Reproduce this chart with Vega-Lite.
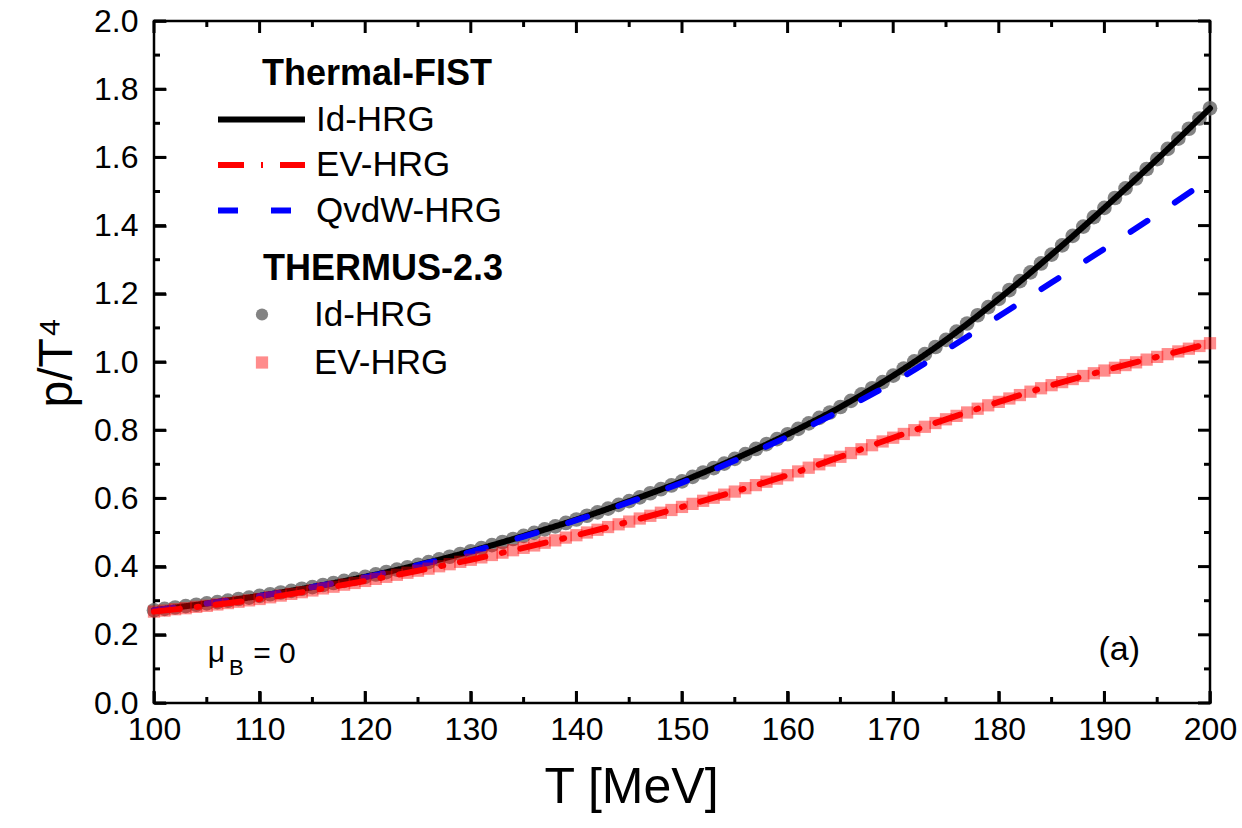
{
  "$schema": "https://vega.github.io/schema/vega-lite/v6.json",
  "width": 1056,
  "height": 682,
  "autosize": {"type": "none"},
  "padding": {"left": 154, "top": 21, "right": 32, "bottom": 125},
  "background": "white",
  "config": {
    "view": {"stroke": "black", "strokeWidth": 2.5},
    "font": "Liberation Sans",
    "axis": {"grid": false, "domain": false, "labelColor": "black", "titleColor": "black", "labelFont": "Liberation Sans", "titleFont": "Liberation Sans", "titleFontWeight": "normal", "labelFlush": false, "labelOverlap": false}
  },
  "datasets": {
    "xmajor": [{"v": 100}, {"v": 110}, {"v": 120}, {"v": 130}, {"v": 140}, {"v": 150}, {"v": 160}, {"v": 170}, {"v": 180}, {"v": 190}, {"v": 200}],
    "xminor": [{"v": 105}, {"v": 115}, {"v": 125}, {"v": 135}, {"v": 145}, {"v": 155}, {"v": 165}, {"v": 175}, {"v": 185}, {"v": 195}],
    "ymajor": [{"v": 0}, {"v": 0.2}, {"v": 0.4}, {"v": 0.6}, {"v": 0.8}, {"v": 1.0}, {"v": 1.2}, {"v": 1.4}, {"v": 1.6}, {"v": 1.8}, {"v": 2.0}],
    "yminor": [{"v": 0.1}, {"v": 0.3}, {"v": 0.5}, {"v": 0.7}, {"v": 0.9}, {"v": 1.1}, {"v": 1.3}, {"v": 1.5}, {"v": 1.7}, {"v": 1.9}],
    "fist": [
      {"m": "Id-HRG", "T": 100, "p": 0.272}, {"m": "Id-HRG", "T": 105, "p": 0.292}, {"m": "Id-HRG", "T": 110, "p": 0.314}, {"m": "Id-HRG", "T": 115, "p": 0.340}, {"m": "Id-HRG", "T": 120, "p": 0.370}, {"m": "Id-HRG", "T": 125, "p": 0.405}, {"m": "Id-HRG", "T": 130, "p": 0.445}, {"m": "Id-HRG", "T": 135, "p": 0.490}, {"m": "Id-HRG", "T": 140, "p": 0.538}, {"m": "Id-HRG", "T": 145, "p": 0.592}, {"m": "Id-HRG", "T": 150, "p": 0.650}, {"m": "Id-HRG", "T": 155, "p": 0.716}, {"m": "Id-HRG", "T": 160, "p": 0.788}, {"m": "Id-HRG", "T": 165, "p": 0.868}, {"m": "Id-HRG", "T": 170, "p": 0.960}, {"m": "Id-HRG", "T": 175, "p": 1.065}, {"m": "Id-HRG", "T": 180, "p": 1.185}, {"m": "Id-HRG", "T": 185, "p": 1.315}, {"m": "Id-HRG", "T": 190, "p": 1.452}, {"m": "Id-HRG", "T": 195, "p": 1.595}, {"m": "Id-HRG", "T": 200, "p": 1.744},
      {"m": "EV-HRG", "T": 100, "p": 0.268}, {"m": "EV-HRG", "T": 105, "p": 0.285}, {"m": "EV-HRG", "T": 110, "p": 0.305}, {"m": "EV-HRG", "T": 115, "p": 0.330}, {"m": "EV-HRG", "T": 120, "p": 0.358}, {"m": "EV-HRG", "T": 125, "p": 0.388}, {"m": "EV-HRG", "T": 130, "p": 0.420}, {"m": "EV-HRG", "T": 135, "p": 0.455}, {"m": "EV-HRG", "T": 140, "p": 0.492}, {"m": "EV-HRG", "T": 145, "p": 0.532}, {"m": "EV-HRG", "T": 150, "p": 0.575}, {"m": "EV-HRG", "T": 155, "p": 0.620}, {"m": "EV-HRG", "T": 160, "p": 0.668}, {"m": "EV-HRG", "T": 165, "p": 0.722}, {"m": "EV-HRG", "T": 170, "p": 0.778}, {"m": "EV-HRG", "T": 175, "p": 0.832}, {"m": "EV-HRG", "T": 180, "p": 0.883}, {"m": "EV-HRG", "T": 185, "p": 0.932}, {"m": "EV-HRG", "T": 190, "p": 0.975}, {"m": "EV-HRG", "T": 195, "p": 1.015}, {"m": "EV-HRG", "T": 200, "p": 1.055},
      {"m": "QvdW-HRG", "T": 100, "p": 0.272}, {"m": "QvdW-HRG", "T": 105, "p": 0.292}, {"m": "QvdW-HRG", "T": 110, "p": 0.314}, {"m": "QvdW-HRG", "T": 115, "p": 0.340}, {"m": "QvdW-HRG", "T": 120, "p": 0.369}, {"m": "QvdW-HRG", "T": 125, "p": 0.404}, {"m": "QvdW-HRG", "T": 130, "p": 0.443}, {"m": "QvdW-HRG", "T": 135, "p": 0.488}, {"m": "QvdW-HRG", "T": 140, "p": 0.536}, {"m": "QvdW-HRG", "T": 145, "p": 0.589}, {"m": "QvdW-HRG", "T": 150, "p": 0.646}, {"m": "QvdW-HRG", "T": 155, "p": 0.711}, {"m": "QvdW-HRG", "T": 160, "p": 0.781}, {"m": "QvdW-HRG", "T": 165, "p": 0.857}, {"m": "QvdW-HRG", "T": 170, "p": 0.940}, {"m": "QvdW-HRG", "T": 175, "p": 1.035}, {"m": "QvdW-HRG", "T": 180, "p": 1.134}, {"m": "QvdW-HRG", "T": 185, "p": 1.233}, {"m": "QvdW-HRG", "T": 190, "p": 1.332}, {"m": "QvdW-HRG", "T": 195, "p": 1.433}, {"m": "QvdW-HRG", "T": 200, "p": 1.538}
    ],
    "thermus": [
      {"tm": "Id-HRG", "T": 100, "p": 0.272}, {"tm": "Id-HRG", "T": 101, "p": 0.276}, {"tm": "Id-HRG", "T": 102, "p": 0.280}, {"tm": "Id-HRG", "T": 103, "p": 0.284}, {"tm": "Id-HRG", "T": 104, "p": 0.288}, {"tm": "Id-HRG", "T": 105, "p": 0.292},
      {"tm": "Id-HRG", "T": 106, "p": 0.296}, {"tm": "Id-HRG", "T": 107, "p": 0.300}, {"tm": "Id-HRG", "T": 108, "p": 0.305}, {"tm": "Id-HRG", "T": 109, "p": 0.309}, {"tm": "Id-HRG", "T": 110, "p": 0.314},
      {"tm": "Id-HRG", "T": 111, "p": 0.319}, {"tm": "Id-HRG", "T": 112, "p": 0.324}, {"tm": "Id-HRG", "T": 113, "p": 0.329}, {"tm": "Id-HRG", "T": 114, "p": 0.335}, {"tm": "Id-HRG", "T": 115, "p": 0.340},
      {"tm": "Id-HRG", "T": 116, "p": 0.346}, {"tm": "Id-HRG", "T": 117, "p": 0.352}, {"tm": "Id-HRG", "T": 118, "p": 0.358}, {"tm": "Id-HRG", "T": 119, "p": 0.364}, {"tm": "Id-HRG", "T": 120, "p": 0.370},
      {"tm": "Id-HRG", "T": 121, "p": 0.377}, {"tm": "Id-HRG", "T": 122, "p": 0.384}, {"tm": "Id-HRG", "T": 123, "p": 0.391}, {"tm": "Id-HRG", "T": 124, "p": 0.398}, {"tm": "Id-HRG", "T": 125, "p": 0.405},
      {"tm": "Id-HRG", "T": 126, "p": 0.413}, {"tm": "Id-HRG", "T": 127, "p": 0.421}, {"tm": "Id-HRG", "T": 128, "p": 0.429}, {"tm": "Id-HRG", "T": 129, "p": 0.437}, {"tm": "Id-HRG", "T": 130, "p": 0.445},
      {"tm": "Id-HRG", "T": 131, "p": 0.454}, {"tm": "Id-HRG", "T": 132, "p": 0.463}, {"tm": "Id-HRG", "T": 133, "p": 0.472}, {"tm": "Id-HRG", "T": 134, "p": 0.481}, {"tm": "Id-HRG", "T": 135, "p": 0.490},
      {"tm": "Id-HRG", "T": 136, "p": 0.499}, {"tm": "Id-HRG", "T": 137, "p": 0.509}, {"tm": "Id-HRG", "T": 138, "p": 0.518}, {"tm": "Id-HRG", "T": 139, "p": 0.528}, {"tm": "Id-HRG", "T": 140, "p": 0.538},
      {"tm": "Id-HRG", "T": 141, "p": 0.549}, {"tm": "Id-HRG", "T": 142, "p": 0.559}, {"tm": "Id-HRG", "T": 143, "p": 0.570}, {"tm": "Id-HRG", "T": 144, "p": 0.581}, {"tm": "Id-HRG", "T": 145, "p": 0.592},
      {"tm": "Id-HRG", "T": 146, "p": 0.603}, {"tm": "Id-HRG", "T": 147, "p": 0.615}, {"tm": "Id-HRG", "T": 148, "p": 0.627}, {"tm": "Id-HRG", "T": 149, "p": 0.638}, {"tm": "Id-HRG", "T": 150, "p": 0.650},
      {"tm": "Id-HRG", "T": 151, "p": 0.663}, {"tm": "Id-HRG", "T": 152, "p": 0.676}, {"tm": "Id-HRG", "T": 153, "p": 0.689}, {"tm": "Id-HRG", "T": 154, "p": 0.702}, {"tm": "Id-HRG", "T": 155, "p": 0.716},
      {"tm": "Id-HRG", "T": 156, "p": 0.730}, {"tm": "Id-HRG", "T": 157, "p": 0.745}, {"tm": "Id-HRG", "T": 158, "p": 0.759}, {"tm": "Id-HRG", "T": 159, "p": 0.774}, {"tm": "Id-HRG", "T": 160, "p": 0.788},
      {"tm": "Id-HRG", "T": 161, "p": 0.804}, {"tm": "Id-HRG", "T": 162, "p": 0.820}, {"tm": "Id-HRG", "T": 163, "p": 0.836}, {"tm": "Id-HRG", "T": 164, "p": 0.852}, {"tm": "Id-HRG", "T": 165, "p": 0.868},
      {"tm": "Id-HRG", "T": 166, "p": 0.886}, {"tm": "Id-HRG", "T": 167, "p": 0.905}, {"tm": "Id-HRG", "T": 168, "p": 0.923}, {"tm": "Id-HRG", "T": 169, "p": 0.941}, {"tm": "Id-HRG", "T": 170, "p": 0.960},
      {"tm": "Id-HRG", "T": 171, "p": 0.981}, {"tm": "Id-HRG", "T": 172, "p": 1.002}, {"tm": "Id-HRG", "T": 173, "p": 1.023}, {"tm": "Id-HRG", "T": 174, "p": 1.044}, {"tm": "Id-HRG", "T": 175, "p": 1.065},
      {"tm": "Id-HRG", "T": 176, "p": 1.089}, {"tm": "Id-HRG", "T": 177, "p": 1.113}, {"tm": "Id-HRG", "T": 178, "p": 1.137}, {"tm": "Id-HRG", "T": 179, "p": 1.161}, {"tm": "Id-HRG", "T": 180, "p": 1.185},
      {"tm": "Id-HRG", "T": 181, "p": 1.211}, {"tm": "Id-HRG", "T": 182, "p": 1.237}, {"tm": "Id-HRG", "T": 183, "p": 1.263}, {"tm": "Id-HRG", "T": 184, "p": 1.289}, {"tm": "Id-HRG", "T": 185, "p": 1.315},
      {"tm": "Id-HRG", "T": 186, "p": 1.342}, {"tm": "Id-HRG", "T": 187, "p": 1.370}, {"tm": "Id-HRG", "T": 188, "p": 1.397}, {"tm": "Id-HRG", "T": 189, "p": 1.425}, {"tm": "Id-HRG", "T": 190, "p": 1.452},
      {"tm": "Id-HRG", "T": 191, "p": 1.481}, {"tm": "Id-HRG", "T": 192, "p": 1.509}, {"tm": "Id-HRG", "T": 193, "p": 1.538}, {"tm": "Id-HRG", "T": 194, "p": 1.566}, {"tm": "Id-HRG", "T": 195, "p": 1.595},
      {"tm": "Id-HRG", "T": 196, "p": 1.625}, {"tm": "Id-HRG", "T": 197, "p": 1.655}, {"tm": "Id-HRG", "T": 198, "p": 1.684}, {"tm": "Id-HRG", "T": 199, "p": 1.714}, {"tm": "Id-HRG", "T": 200, "p": 1.744},
      {"tm": "EV-HRG", "T": 100, "p": 0.268}, {"tm": "EV-HRG", "T": 101, "p": 0.271}, {"tm": "EV-HRG", "T": 102, "p": 0.275}, {"tm": "EV-HRG", "T": 103, "p": 0.278}, {"tm": "EV-HRG", "T": 104, "p": 0.282}, {"tm": "EV-HRG", "T": 105, "p": 0.285},
      {"tm": "EV-HRG", "T": 106, "p": 0.289}, {"tm": "EV-HRG", "T": 107, "p": 0.293}, {"tm": "EV-HRG", "T": 108, "p": 0.297}, {"tm": "EV-HRG", "T": 109, "p": 0.301}, {"tm": "EV-HRG", "T": 110, "p": 0.305},
      {"tm": "EV-HRG", "T": 111, "p": 0.310}, {"tm": "EV-HRG", "T": 112, "p": 0.315}, {"tm": "EV-HRG", "T": 113, "p": 0.320}, {"tm": "EV-HRG", "T": 114, "p": 0.325}, {"tm": "EV-HRG", "T": 115, "p": 0.330},
      {"tm": "EV-HRG", "T": 116, "p": 0.336}, {"tm": "EV-HRG", "T": 117, "p": 0.341}, {"tm": "EV-HRG", "T": 118, "p": 0.347}, {"tm": "EV-HRG", "T": 119, "p": 0.352}, {"tm": "EV-HRG", "T": 120, "p": 0.358},
      {"tm": "EV-HRG", "T": 121, "p": 0.364}, {"tm": "EV-HRG", "T": 122, "p": 0.370}, {"tm": "EV-HRG", "T": 123, "p": 0.376}, {"tm": "EV-HRG", "T": 124, "p": 0.382}, {"tm": "EV-HRG", "T": 125, "p": 0.388},
      {"tm": "EV-HRG", "T": 126, "p": 0.394}, {"tm": "EV-HRG", "T": 127, "p": 0.401}, {"tm": "EV-HRG", "T": 128, "p": 0.407}, {"tm": "EV-HRG", "T": 129, "p": 0.414}, {"tm": "EV-HRG", "T": 130, "p": 0.420},
      {"tm": "EV-HRG", "T": 131, "p": 0.427}, {"tm": "EV-HRG", "T": 132, "p": 0.434}, {"tm": "EV-HRG", "T": 133, "p": 0.441}, {"tm": "EV-HRG", "T": 134, "p": 0.448}, {"tm": "EV-HRG", "T": 135, "p": 0.455},
      {"tm": "EV-HRG", "T": 136, "p": 0.462}, {"tm": "EV-HRG", "T": 137, "p": 0.470}, {"tm": "EV-HRG", "T": 138, "p": 0.477}, {"tm": "EV-HRG", "T": 139, "p": 0.485}, {"tm": "EV-HRG", "T": 140, "p": 0.492},
      {"tm": "EV-HRG", "T": 141, "p": 0.500}, {"tm": "EV-HRG", "T": 142, "p": 0.508}, {"tm": "EV-HRG", "T": 143, "p": 0.516}, {"tm": "EV-HRG", "T": 144, "p": 0.524}, {"tm": "EV-HRG", "T": 145, "p": 0.532},
      {"tm": "EV-HRG", "T": 146, "p": 0.541}, {"tm": "EV-HRG", "T": 147, "p": 0.549}, {"tm": "EV-HRG", "T": 148, "p": 0.558}, {"tm": "EV-HRG", "T": 149, "p": 0.566}, {"tm": "EV-HRG", "T": 150, "p": 0.575},
      {"tm": "EV-HRG", "T": 151, "p": 0.584}, {"tm": "EV-HRG", "T": 152, "p": 0.593}, {"tm": "EV-HRG", "T": 153, "p": 0.602}, {"tm": "EV-HRG", "T": 154, "p": 0.611}, {"tm": "EV-HRG", "T": 155, "p": 0.620},
      {"tm": "EV-HRG", "T": 156, "p": 0.630}, {"tm": "EV-HRG", "T": 157, "p": 0.639}, {"tm": "EV-HRG", "T": 158, "p": 0.649}, {"tm": "EV-HRG", "T": 159, "p": 0.658}, {"tm": "EV-HRG", "T": 160, "p": 0.668},
      {"tm": "EV-HRG", "T": 161, "p": 0.679}, {"tm": "EV-HRG", "T": 162, "p": 0.690}, {"tm": "EV-HRG", "T": 163, "p": 0.700}, {"tm": "EV-HRG", "T": 164, "p": 0.711}, {"tm": "EV-HRG", "T": 165, "p": 0.722},
      {"tm": "EV-HRG", "T": 166, "p": 0.733}, {"tm": "EV-HRG", "T": 167, "p": 0.744}, {"tm": "EV-HRG", "T": 168, "p": 0.756}, {"tm": "EV-HRG", "T": 169, "p": 0.767}, {"tm": "EV-HRG", "T": 170, "p": 0.778},
      {"tm": "EV-HRG", "T": 171, "p": 0.789}, {"tm": "EV-HRG", "T": 172, "p": 0.800}, {"tm": "EV-HRG", "T": 173, "p": 0.810}, {"tm": "EV-HRG", "T": 174, "p": 0.821}, {"tm": "EV-HRG", "T": 175, "p": 0.832},
      {"tm": "EV-HRG", "T": 176, "p": 0.842}, {"tm": "EV-HRG", "T": 177, "p": 0.852}, {"tm": "EV-HRG", "T": 178, "p": 0.863}, {"tm": "EV-HRG", "T": 179, "p": 0.873}, {"tm": "EV-HRG", "T": 180, "p": 0.883},
      {"tm": "EV-HRG", "T": 181, "p": 0.893}, {"tm": "EV-HRG", "T": 182, "p": 0.903}, {"tm": "EV-HRG", "T": 183, "p": 0.913}, {"tm": "EV-HRG", "T": 184, "p": 0.923}, {"tm": "EV-HRG", "T": 185, "p": 0.932},
      {"tm": "EV-HRG", "T": 186, "p": 0.941}, {"tm": "EV-HRG", "T": 187, "p": 0.950}, {"tm": "EV-HRG", "T": 188, "p": 0.959}, {"tm": "EV-HRG", "T": 189, "p": 0.967}, {"tm": "EV-HRG", "T": 190, "p": 0.975},
      {"tm": "EV-HRG", "T": 191, "p": 0.983}, {"tm": "EV-HRG", "T": 192, "p": 0.991}, {"tm": "EV-HRG", "T": 193, "p": 0.999}, {"tm": "EV-HRG", "T": 194, "p": 1.007}, {"tm": "EV-HRG", "T": 195, "p": 1.015},
      {"tm": "EV-HRG", "T": 196, "p": 1.023}, {"tm": "EV-HRG", "T": 197, "p": 1.031}, {"tm": "EV-HRG", "T": 198, "p": 1.039}, {"tm": "EV-HRG", "T": 199, "p": 1.047}, {"tm": "EV-HRG", "T": 200, "p": 1.055}
    ]
  },
  "layer": [
    {
      "data": {"name": "thermus"},
      "transform": [{"filter": "datum.tm === 'Id-HRG'"}],
      "mark": {"type": "point", "filled": true, "strokeWidth": 0, "size": 215, "opacity": 1},
      "encoding": {
        "x": {"field": "T", "type": "quantitative", "scale": {"domain": [100, 200], "nice": false, "zero": false},
          "axis": {"orient": "bottom", "offset": -12, "values": [100, 110, 120, 130, 140, 150, 160, 170, 180, 190, 200], "format": "d", "ticks": true, "tickSize": 12, "tickColor": "#000000", "tickWidth": 2.5, "labelFontSize": 32, "labelPadding": 11, "title": "T [MeV]", "titleFontSize": 50, "titleX": 477, "titleY": 111, "titleBaseline": "alphabetic", "titleAlign": "center", "titleAnchor": "middle"}},
        "y": {"field": "p", "type": "quantitative", "scale": {"domain": [0, 2], "nice": false, "zero": false},
          "axis": {"orient": "left", "offset": -12, "values": [0, 0.2, 0.4, 0.6, 0.8, 1.0, 1.2, 1.4, 1.6, 1.8, 2.0], "format": ".1f", "ticks": true, "tickSize": 12, "tickColor": "#000000", "tickWidth": 2.5, "labelFontSize": 32, "labelPadding": 16, "title": "p/T⁴", "titleFontSize": 48, "titleAngle": -90, "titleX": -95, "titleY": 341, "titleBaseline": "alphabetic", "titleAlign": "center", "titleAnchor": "middle"}},
        "fill": {"field": "tm", "type": "nominal", "scale": {"domain": ["Id-HRG", "EV-HRG"], "range": ["rgba(100,100,100,0.8)", "rgba(255,0,0,0.45)"]},
          "legend": {"title": "THERMUS-2.3", "orient": "none", "legendX": 109, "legendY": 231, "direction": "vertical", "padding": 0, "titleFont": "Liberation Sans", "titleFontSize": 36, "titleFontWeight": "bold", "titleColor": "black", "titlePadding": 9, "titleLimit": 500, "labelFont": "Liberation Sans", "labelFontSize": 35, "labelColor": "black", "labelLimit": 400, "symbolSize": 150, "symbolStrokeWidth": 0, "symbolOffset": -18.5, "labelOffset": 34.5, "rowPadding": 12}},
        "shape": {"field": "tm", "type": "nominal", "scale": {"domain": ["Id-HRG", "EV-HRG"], "range": ["circle", "square"]},
          "legend": {"title": "THERMUS-2.3", "orient": "none", "legendX": 109, "legendY": 231, "direction": "vertical", "padding": 0, "titleFont": "Liberation Sans", "titleFontSize": 36, "titleFontWeight": "bold", "titleColor": "black", "titlePadding": 9, "titleLimit": 500, "labelFont": "Liberation Sans", "labelFontSize": 35, "labelColor": "black", "labelLimit": 400, "symbolSize": 150, "symbolStrokeWidth": 0, "symbolOffset": -18.5, "labelOffset": 34.5, "rowPadding": 12}}
      }
    },
    {
      "data": {"name": "fist"},
      "transform": [{"filter": "datum.m === 'Id-HRG'"}],
      "mark": {"type": "line", "strokeWidth": 6, "strokeCap": "round", "interpolate": "monotone"},
      "encoding": {
        "x": {"field": "T", "type": "quantitative", "scale": {"domain": [100, 200], "nice": false, "zero": false}, "axis": null},
        "y": {"field": "p", "type": "quantitative", "scale": {"domain": [0, 2], "nice": false, "zero": false}, "axis": null},
        "stroke": {"field": "m", "type": "nominal", "scale": {"domain": ["Id-HRG", "EV-HRG", "QvdW-HRG"], "range": ["#000000", "#ff0000", "#0000ff"]},
          "legend": {"title": "Thermal-FIST", "orient": "none", "legendX": 108, "legendY": 36, "direction": "vertical", "padding": 0, "titleFont": "Liberation Sans", "titleFontSize": 36, "titleFontWeight": "bold", "titleColor": "black", "titlePadding": 8.5, "titleLimit": 500, "labelFont": "Liberation Sans", "labelFontSize": 35, "labelColor": "black", "labelLimit": 400, "symbolType": "M-2.9,0H2.9", "symbolSize": 900, "symbolStrokeWidth": 6, "symbolOffset": -18.5, "labelOffset": 36.5, "rowPadding": 9.5}},
        "strokeDash": {"field": "m", "type": "nominal", "scale": {"domain": ["Id-HRG", "EV-HRG", "QvdW-HRG"], "range": [[1, 0], [26, 17, 2, 17], [20, 33]]},
          "legend": {"title": "Thermal-FIST", "orient": "none", "legendX": 108, "legendY": 36, "direction": "vertical", "padding": 0, "titleFont": "Liberation Sans", "titleFontSize": 36, "titleFontWeight": "bold", "titleColor": "black", "titlePadding": 8.5, "titleLimit": 500, "labelFont": "Liberation Sans", "labelFontSize": 35, "labelColor": "black", "labelLimit": 400, "symbolType": "M-2.9,0H2.9", "symbolSize": 900, "symbolStrokeWidth": 6, "symbolOffset": -18.5, "labelOffset": 36.5, "rowPadding": 9.5}}
      }
    },
    {
      "data": {"name": "fist"},
      "transform": [{"filter": "datum.m === 'QvdW-HRG'"}],
      "mark": {"type": "line", "strokeWidth": 6, "strokeCap": "round", "interpolate": "monotone"},
      "encoding": {
        "x": {"field": "T", "type": "quantitative", "axis": null},
        "y": {"field": "p", "type": "quantitative", "axis": null},
        "stroke": {"field": "m", "type": "nominal"},
        "strokeDash": {"field": "m", "type": "nominal"}
      }
    },
    {
      "data": {"name": "thermus"},
      "transform": [{"filter": "datum.tm === 'EV-HRG'"}],
      "mark": {"type": "point", "filled": true, "strokeWidth": 0, "size": 150, "opacity": 1},
      "encoding": {
        "x": {"field": "T", "type": "quantitative", "axis": null},
        "y": {"field": "p", "type": "quantitative", "axis": null},
        "fill": {"field": "tm", "type": "nominal"},
        "shape": {"field": "tm", "type": "nominal"}
      }
    },
    {
      "data": {"name": "fist"},
      "transform": [{"filter": "datum.m === 'EV-HRG'"}],
      "mark": {"type": "line", "strokeWidth": 6, "strokeCap": "round", "interpolate": "monotone"},
      "encoding": {
        "x": {"field": "T", "type": "quantitative", "axis": null},
        "y": {"field": "p", "type": "quantitative", "axis": null},
        "stroke": {"field": "m", "type": "nominal"},
        "strokeDash": {"field": "m", "type": "nominal"}
      }
    },
    {
      "data": {"name": "xmajor"},
      "mark": {"type": "rule", "strokeWidth": 3, "color": "#000000", "opacity": 1},
      "encoding": {"x": {"field": "v", "type": "quantitative", "axis": null}, "y": {"datum": 0, "type": "quantitative", "axis": null}, "y2": {"datum": 0.0352}}
    },
    {
      "data": {"name": "xmajor"},
      "mark": {"type": "rule", "strokeWidth": 3, "color": "#000000", "opacity": 1},
      "encoding": {"x": {"field": "v", "type": "quantitative", "axis": null}, "y": {"datum": 2, "type": "quantitative", "axis": null}, "y2": {"datum": 1.9648}}
    },
    {
      "data": {"name": "xminor"},
      "mark": {"type": "rule", "strokeWidth": 3, "color": "#000000", "opacity": 1},
      "encoding": {"x": {"field": "v", "type": "quantitative", "axis": null}, "y": {"datum": 0, "type": "quantitative", "axis": null}, "y2": {"datum": 0.0176}}
    },
    {
      "data": {"name": "xminor"},
      "mark": {"type": "rule", "strokeWidth": 3, "color": "#000000", "opacity": 1},
      "encoding": {"x": {"field": "v", "type": "quantitative", "axis": null}, "y": {"datum": 2, "type": "quantitative", "axis": null}, "y2": {"datum": 1.9824}}
    },
    {
      "data": {"name": "ymajor"},
      "mark": {"type": "rule", "strokeWidth": 3, "color": "#000000", "opacity": 1},
      "encoding": {"y": {"field": "v", "type": "quantitative", "axis": null}, "x": {"datum": 100, "type": "quantitative", "axis": null}, "x2": {"datum": 101.136}}
    },
    {
      "data": {"name": "ymajor"},
      "mark": {"type": "rule", "strokeWidth": 3, "color": "#000000", "opacity": 1},
      "encoding": {"y": {"field": "v", "type": "quantitative", "axis": null}, "x": {"datum": 200, "type": "quantitative", "axis": null}, "x2": {"datum": 198.864}}
    },
    {
      "data": {"name": "yminor"},
      "mark": {"type": "rule", "strokeWidth": 3, "color": "#000000", "opacity": 1},
      "encoding": {"y": {"field": "v", "type": "quantitative", "axis": null}, "x": {"datum": 100, "type": "quantitative", "axis": null}, "x2": {"datum": 100.568}}
    },
    {
      "data": {"name": "yminor"},
      "mark": {"type": "rule", "strokeWidth": 3, "color": "#000000", "opacity": 1},
      "encoding": {"y": {"field": "v", "type": "quantitative", "axis": null}, "x": {"datum": 200, "type": "quantitative", "axis": null}, "x2": {"datum": 199.432}}
    },
    {
      "data": {"values": [{"label": "μ"}]},
      "mark": {"type": "text", "font": "Liberation Sans", "fontSize": 30, "align": "left", "baseline": "alphabetic", "color": "black"},
      "encoding": {"x": {"datum": 105.1, "type": "quantitative", "axis": null}, "y": {"datum": 0.12, "type": "quantitative", "axis": null}, "text": {"field": "label"}}
    },
    {
      "data": {"values": [{"label": "B"}]},
      "mark": {"type": "text", "font": "Liberation Sans", "fontSize": 22, "align": "left", "baseline": "alphabetic", "color": "black"},
      "encoding": {"x": {"datum": 107.1, "type": "quantitative", "axis": null}, "y": {"datum": 0.082, "type": "quantitative", "axis": null}, "text": {"field": "label"}}
    },
    {
      "data": {"values": [{"label": "= 0"}]},
      "mark": {"type": "text", "font": "Liberation Sans", "fontSize": 30, "align": "left", "baseline": "alphabetic", "color": "black"},
      "encoding": {"x": {"datum": 109.4, "type": "quantitative", "axis": null}, "y": {"datum": 0.118, "type": "quantitative", "axis": null}, "text": {"field": "label"}}
    },
    {
      "data": {"values": [{"label": "(a)"}]},
      "mark": {"type": "text", "font": "Liberation Sans", "fontSize": 34, "align": "center", "baseline": "alphabetic", "color": "black"},
      "encoding": {"x": {"datum": 191.4, "type": "quantitative", "axis": null}, "y": {"datum": 0.126, "type": "quantitative", "axis": null}, "text": {"field": "label"}}
    }
  ],
  "resolve": {"axis": {"x": "independent", "y": "independent"}}
}
